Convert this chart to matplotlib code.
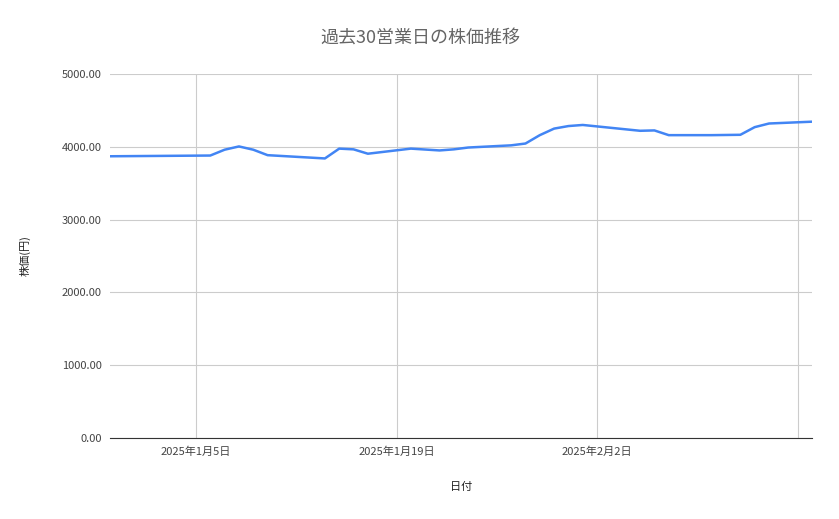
import matplotlib
matplotlib.use("Agg")
import matplotlib.pyplot as plt
import matplotlib.dates as mdates
import numpy as np

plt.rcParams['font.family'] = ['Noto Sans CJK JP', 'DejaVu Sans']

dates = ["2024-12-30", "2025-01-06", "2025-01-07", "2025-01-08", "2025-01-09",
         "2025-01-10", "2025-01-14", "2025-01-15", "2025-01-16", "2025-01-17",
         "2025-01-20", "2025-01-22", "2025-01-23", "2025-01-24", "2025-01-27",
         "2025-01-28", "2025-01-29", "2025-01-30", "2025-01-31", "2025-02-01",
         "2025-02-05", "2025-02-06", "2025-02-07", "2025-02-10", "2025-02-12",
         "2025-02-13", "2025-02-14", "2025-02-17"]
prices = [3870, 3880, 3960, 4005, 3960, 3885, 3840, 3975, 3965, 3905,
          3975, 3950, 3965, 3990, 4020, 4045, 4160, 4250, 4285, 4300,
          4220, 4225, 4160, 4160, 4165, 4270, 4320, 4345]
tick_dates = ["2025-01-05", "2025-01-19", "2025-02-02", "2025-02-16"]
tick_labels = ["2025年1月5日", "2025年1月19日", "2025年2月2日", ""]

x = np.array(dates, dtype="datetime64[D]")
fig = plt.figure(figsize=(8.39, 5.19), dpi=100)
ax = fig.add_axes([110/839, 1-438/519, 702/839, 364/519])
ax.plot(x, prices, color="#4285f4", lw=1.8)

ax.set_xlim(np.datetime64("2024-12-30"), np.datetime64("2025-02-17"))
ax.set_ylim(0, 5000)
ax.set_yticks(np.arange(0, 5001, 1000))
ax.yaxis.set_major_formatter(matplotlib.ticker.FuncFormatter(lambda v, p: f"{v:.2f}"))
ax.set_xticks(np.array(tick_dates, dtype="datetime64[D]"))
ax.set_xticklabels(tick_labels)
ax.grid(True, color="#cccccc", lw=0.8)
ax.tick_params(length=0, labelsize=8, colors="#444444", pad=6)
for s in ["top", "right", "left"]:
    ax.spines[s].set_visible(False)
ax.spines["bottom"].set_color("#333333")

ax.set_xlabel("日付", fontsize=8, color="#222222", labelpad=18)
ax.set_ylabel("株価(円)", fontsize=8, color="#222222", labelpad=22)
fig.suptitle("過去30営業日の株価推移", x=420/839, y=1-38/519, va="center",
             fontsize=13, color="#666666")
fig.savefig("out.png", dpi=100)
